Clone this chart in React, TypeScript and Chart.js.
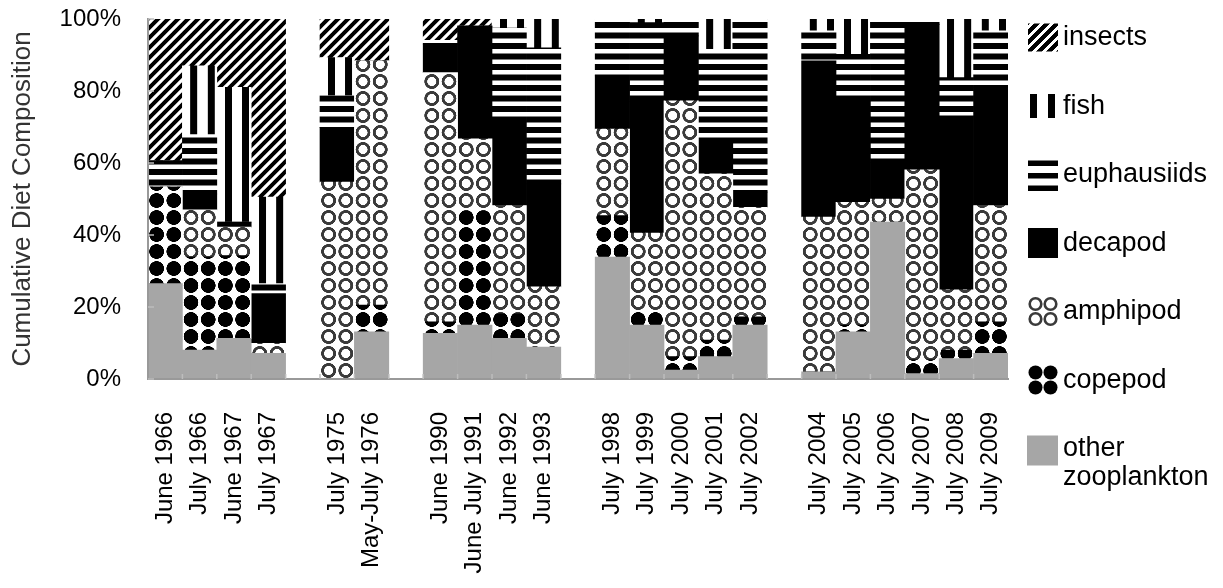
import React, { useEffect, useRef } from 'react';
import { Chart, registerables } from 'chart.js';

Chart.register(...registerables);

// ---------- DATA ----------
const categories = [
  'June 1966', 'July 1966', 'June 1967', 'July 1967', '',
  'July 1975', 'May-July 1976', '',
  'June 1990', 'June July 1991', 'June 1992', 'June 1993', '',
  'July 1998', 'July 1999', 'July 2000', 'July 2001', 'July 2002', '',
  'July 2004', 'July 2005', 'July 2006', 'July 2007', 'July 2008', 'July 2009',
];

const otherZooplankton = [26.5, 8.0, 11.3, 7.1, null, 0, 13.1, null, 12.7, 15.0, 11.3, 8.9, null, 33.9, 15.0, 2.5, 6.2, 15.0, null, 2.0, 13.1, 43.6, 1.5, 5.7, 7.1];
const copepod =          [26.8, 25.9, 23.0, 0, null, 0, 7.4, null, 3.2, 31.8, 6.9, 0, null, 11.5, 3.6, 3.7, 4.6, 2.3, null, 0, 1.9, 0, 3.8, 2.3, 8.8];
const amphipod =         [0, 13.1, 7.9, 2.8, null, 54.7, 67.9, null, 69.2, 19.9, 30.0, 16.7, null, 24.0, 21.9, 71.1, 46.2, 30.4, null, 43.0, 34.1, 6.4, 52.8, 16.8, 32.3];
const decapod =          [0, 4.4, 1.4, 13.8, null, 15.2, 0, null, 7.9, 31.3, 23.1, 28.6, null, 14.8, 36.6, 18.0, 9.7, 4.2, null, 43.4, 28.4, 10.2, 40.4, 48.3, 32.8];
const euphausiids =      [7.4, 16.5, 0, 2.8, null, 8.8, 0, null, 1.1, 0, 26.2, 37.8, null, 15.8, 21.9, 4.7, 24.9, 48.1, null, 8.3, 12.7, 39.8, 1.5, 10.6, 15.7];
const fish =             [0, 19.1, 37.4, 24.0, null, 10.6, 0, null, 0, 0, 2.5, 8.0, null, 0, 1.0, 0, 8.4, 0, null, 3.3, 9.8, 0, 0, 16.3, 3.3];
const insects =          [39.3, 13.0, 19.0, 49.5, null, 10.7, 11.6, null, 5.9, 2.0, 0, 0, null, 0, 0, 0, 0, 0, null, 0, 0, 0, 0, 0, 0];

const seriesNames = ['other zooplankton', 'copepod', 'amphipod', 'decapod', 'euphausiids', 'fish', 'insects'];
const legendLabels = [['insects'], ['fish'], ['euphausiids'], ['decapod'], ['amphipod'], ['copepod'], ['other', 'zooplankton']];
const yTickValues = [0, 20, 40, 60, 80, 100];
const yTitle = 'Cumulative Diet Composition';

const FONT = '"Liberation Sans", Arial, sans-serif';

// ---------- PATTERNS ----------
type Tile = { cv: HTMLCanvasElement; cw: number; ch: number; nomW: number; nomH: number; pattern?: CanvasPattern | null };
const R = 4;
function makeTile(nomW: number, nomH: number, draw: (c: CanvasRenderingContext2D) => void): Tile {
  const cw = Math.round(nomW * R);
  const ch = Math.round(nomH * R);
  const cv = document.createElement('canvas');
  cv.width = cw;
  cv.height = ch;
  const c = cv.getContext('2d')!;
  c.fillStyle = '#fff';
  c.fillRect(0, 0, cw, ch);
  c.scale(cw / nomW, ch / nomH);
  draw(c);
  return { cv, cw, ch, nomW, nomH };
}

export default function App() {
  const ref = useRef<HTMLCanvasElement | null>(null);

  useEffect(() => {
    const canvas = ref.current!;
    const ctx = canvas.getContext('2d')!;

    const H = 17.2;
    const D = 20; // diagonal tile (two stripes -> vertical period 10)
    const tInsects = makeTile(D, D, (c) => {
      c.strokeStyle = '#000';
      c.lineWidth = (D / 2 / Math.SQRT2) * 0.58;
      for (let k = -3; k <= 7; k++) {
        const s = k * (D / 2);
        c.beginPath();
        c.moveTo(s - 25, 25);
        c.lineTo(s + 25, -25);
        c.stroke();
      }
    });
    const tFish = makeTile(H, 4, (c) => {
      c.fillStyle = '#000';
      c.fillRect(8, 0, 7, 4);
    });
    const tEuph = makeTile(4, 10.5, (c) => {
      c.fillStyle = '#000';
      c.fillRect(0, 0, 4, 6);
    });
    const tAmph = makeTile(H, 17, (c) => {
      c.strokeStyle = '#3a3a3a';
      c.lineWidth = 2.9;
      c.beginPath();
      c.arc(H / 2, 8.5, 6.0, 0, Math.PI * 2);
      c.stroke();
    });
    const tCope = makeTile(H, 17, (c) => {
      c.fillStyle = '#000';
      c.beginPath();
      c.arc(H / 2, 8.5, 7.4, 0, Math.PI * 2);
      c.fill();
    });
    const tiles = [tInsects, tFish, tEuph, tAmph, tCope];
    tiles.forEach((t) => (t.pattern = ctx.createPattern(t.cv, 'repeat')));

    const setT = (t: Tile, ox: number, oy: number, half: number, fitX: boolean, fitY: boolean) => {
      const sx = (fitX ? half : t.nomW) / t.cw;
      const sy = (fitY ? half : t.nomH) / t.ch;
      t.pattern!.setTransform(new DOMMatrix().translate(ox, oy).scale(sx, sy));
    };
    const alignAll = (ox: number, oy: number, half: number) => {
      setT(tInsects, ox, oy, half, false, false);
      setT(tFish, ox, oy, half, true, false);
      setT(tEuph, ox, oy, half, false, false);
      setT(tAmph, ox, oy, half, true, false);
      setT(tCope, ox, oy, half, true, false);
    };

    const fills: (string | CanvasPattern)[] = [
      '#a6a6a6',
      tCope.pattern!,
      tAmph.pattern!,
      '#000',
      tEuph.pattern!,
      tFish.pattern!,
      tInsects.pattern!,
    ];
    const seriesData = [otherZooplankton, copepod, amphipod, decapod, euphausiids, fish, insects];

    const plugin = {
      id: 'customDraw',
      beforeDatasetsDraw(chart: any) {
        const a = chart.chartArea;
        const half = (a.right - a.left) / categories.length / 2;
        alignAll(a.left, a.bottom, half);
      },
      afterDraw(chart: any) {
        const a = chart.chartArea;
        const c = chart.ctx as CanvasRenderingContext2D;
        const slot = (a.right - a.left) / categories.length;
        const half = slot / 2;
        const yScale = chart.scales.y;
        c.save();
        // inward tick marks
        c.strokeStyle = '#bdbdbd';
        c.lineWidth = 1.5;
        for (let k = 1; k < categories.length; k++) {
          const x = a.left + k * slot;
          c.beginPath();
          c.moveTo(x, a.bottom);
          c.lineTo(x, a.bottom - 5);
          c.stroke();
        }
        yTickValues.forEach((v) => {
          const y = yScale.getPixelForValue(v);
          c.beginPath();
          c.moveTo(a.left, y);
          c.lineTo(a.left + 6, y);
          c.stroke();
        });

        // legend
        const x0 = 1028;
        const sw = 30;
        legendLabels.forEach((lines, i) => {
          const base = 45 + i * 68.5;
          const cy = base - 7.5;
          const top = cy - 15;
          c.save();
          if (i === 0) {
            setT(tInsects, x0, top, half, false, false);
            c.fillStyle = tInsects.pattern!;
            c.fillRect(x0, top + 1, sw, 28);
          } else if (i === 1) {
            c.fillStyle = '#000';
            c.fillRect(x0 + 2, top + 3, 7, 24);
            c.fillRect(x0 + 20, top + 3, 7, 24);
          } else if (i === 2) {
            c.fillStyle = '#000';
            for (let j = 0; j < 3; j++) c.fillRect(x0, top + 1 + j * 12.5, sw, 5.5);
          } else if (i === 3) {
            c.fillStyle = '#000';
            c.fillRect(x0, top, sw, sw);
          } else if (i === 4) {
            c.strokeStyle = '#3a3a3a';
            c.lineWidth = 2.6;
            for (let r = 0; r < 2; r++)
              for (let q = 0; q < 2; q++) {
                c.beginPath();
                c.arc(x0 + 7.5 + q * 15, top + 7.5 + r * 15, 5.8, 0, Math.PI * 2);
                c.stroke();
              }
          } else if (i === 5) {
            c.fillStyle = '#000';
            for (let r = 0; r < 2; r++)
              for (let q = 0; q < 2; q++) {
                c.beginPath();
                c.arc(x0 + 7.5 + q * 15, top + 7.5 + r * 15, 7, 0, Math.PI * 2);
                c.fill();
              }
          } else {
            c.fillStyle = '#a6a6a6';
            c.fillRect(x0 - 1, top + 2, sw + 1, sw);
          }
          c.restore();
          c.fillStyle = '#000';
          c.font = `27px ${FONT}`;
          c.textAlign = 'left';
          c.textBaseline = 'alphabetic';
          lines.forEach((ln, j) => c.fillText(ln, 1063, base + j * 28.5));
        });
        c.restore();
        alignAll(a.left, a.bottom, half);
      },
    };

    const chart = new Chart(canvas, {
      type: 'bar',
      data: {
        labels: categories,
        datasets: seriesNames.map((name, i) => ({
          label: name,
          data: seriesData[i] as any,
          backgroundColor: fills[i] as any,
          borderWidth: 0,
          barPercentage: 1,
          categoryPercentage: 1,
        })),
      },
      options: {
        animation: false,
        responsive: true,
        maintainAspectRatio: false,
        events: [],
        layout: { padding: { left: 0, top: 19, right: 215, bottom: 0 } },
        plugins: {
          legend: { display: false },
          tooltip: { enabled: false },
        },
        scales: {
          x: {
            stacked: true,
            grid: { display: false, drawTicks: false },
            border: { display: true, color: '#999', width: 2, z: 1 },
            ticks: {
              autoSkip: false,
              maxRotation: 90,
              minRotation: 90,
              padding: 33,
              color: '#000',
              font: { size: 24, family: FONT },
            },
            afterFit: (s: any) => {
              s.height = 209;
              s.paddingLeft = 0;
              s.paddingRight = 0;
            },
          },
          y: {
            stacked: true,
            min: 0,
            max: 100,
            grid: { display: false, drawTicks: false },
            border: { display: true, color: '#999', width: 2, z: 1 },
            ticks: {
              stepSize: 20,
              padding: 27,
              color: '#000',
              font: { size: 24, family: FONT },
              callback: (v: any) => `${v}%`,
            },
            title: {
              display: true,
              text: yTitle,
              color: '#333',
              font: { size: 26, family: FONT },
              padding: { top: 7, bottom: 0 },
            },
            afterFit: (s: any) => {
              s.width = 148;
              s.paddingTop = 0;
              s.paddingBottom = 0;
            },
          },
        },
      },
      plugins: [plugin],
    });

    return () => chart.destroy();
  }, []);

  return (
    <div style={{ position: 'fixed', left: 0, top: 0, width: 1223, height: 588, background: '#fff' }}>
      <canvas ref={ref} />
    </div>
  );
}
